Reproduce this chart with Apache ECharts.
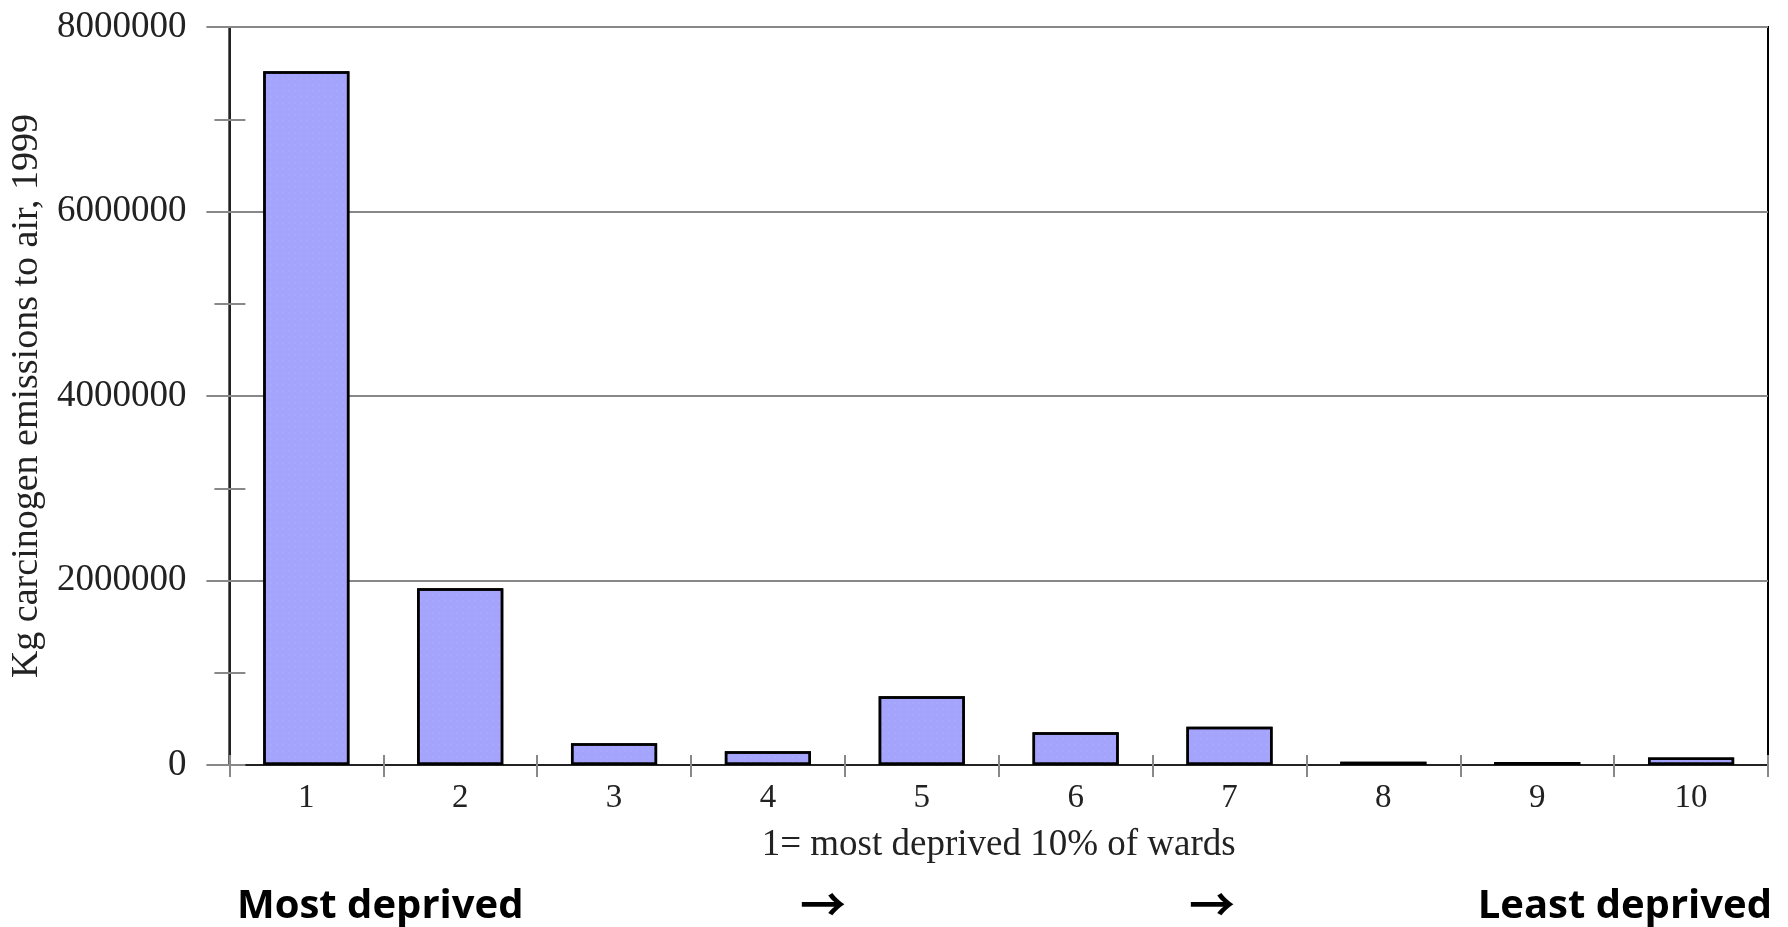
<!DOCTYPE html>
<html><head><meta charset="utf-8">
<script src="https://cdn.jsdelivr.net/npm/echarts@6/dist/echarts.min.js"></script>
<style>html,body{margin:0;padding:0;background:#fff;}#c{width:1788px;height:927px;}</style>
</head><body><div id="c"></div>
<script>
const categories = ['1','2','3','4','5','6','7','8','9','10'];
const emissions = [7520000, 1915000, 235000, 150000, 745000, 355000, 415000, 36000, 33000, 80000];
const yTicks = [0, 2000000, 4000000, 6000000, 8000000];
const yAxisTitle = 'Kg carcinogen emissions to air, 1999';
const xAxisTitle = '1= most deprived 10% of wards';
const bottomNotes = ['Most deprived', '\u2192', '\u2192', 'Least deprived'];

const serif = 'Liberation Serif, Times New Roman, serif';
const chart = echarts.init(document.getElementById('c'));
chart.setOption({
  animation: false,
  backgroundColor: '#fff',
  grid: { left: 226, right: 20, top: 27, bottom: 162, show: true, borderColor: '#000', borderWidth: 2, backgroundColor: 'transparent' },
  xAxis: [{
    type: 'category', data: categories, position: 'bottom',
    axisLine: { lineStyle: { color: '#222', width: 2 } },
    axisTick: { show: true, length: 12, lineStyle: { color: '#888', width: 2 } },
    axisLabel: { color: '#222', fontFamily: serif, fontSize: 33, margin: 17 },
    name: xAxisTitle, nameLocation: 'middle', nameGap: 62,
    nameTextStyle: { color: '#222', fontFamily: serif, fontSize: 37 }
  }, {
    type: 'category', data: categories, position: 'bottom',
    axisLine: { show: false },
    axisTick: { show: true, inside: true, length: 10, lineStyle: { color: '#888', width: 2 } },
    axisLabel: { show: false }
  }],
  yAxis: [{
    type: 'value', min: yTicks[0], max: yTicks[yTicks.length - 1], interval: yTicks[1] - yTicks[0], position: 'left',
    axisLine: { show: true, lineStyle: { color: '#222', width: 2 } },
    axisTick: { show: true, length: 23, lineStyle: { color: '#888', width: 2 } },
    minorTick: { show: true, splitNumber: 2, length: 15, lineStyle: { color: '#888', width: 2 } },
    splitLine: { show: true, lineStyle: { color: '#888', width: 2 } },
    axisLabel: { color: '#222', fontFamily: serif, fontSize: 37, margin: 43, formatter: v => String(v) },
    name: yAxisTitle, nameLocation: 'middle', nameRotate: 90, nameGap: 160,
    nameTextStyle: { color: '#222', fontFamily: serif, fontSize: 38 }
  }, {
    type: 'value', min: yTicks[0], max: yTicks[yTicks.length - 1], interval: (yTicks[1] - yTicks[0]) / 2, position: 'left',
    axisLine: { show: false },
    axisTick: { show: true, inside: true, length: 16, lineStyle: { color: '#888', width: 2 } },
    splitLine: { show: false },
    axisLabel: { show: false }
  }],
  series: [{
    type: 'bar', data: emissions, xAxisIndex: 0, yAxisIndex: 0,
    barCategoryGap: '44%',
    itemStyle: {
      color: '#a4a4fc', borderColor: '#000', borderWidth: 2.5,
      decal: { symbol: 'rect', symbolSize: 0.6, color: 'rgba(190,190,255,0.55)', dashArrayX: [2, 4], dashArrayY: [2, 4], rotation: 0 }
    }
  }],
  graphic: [
    { type: 'text', left: 237, top: 887, style: { text: bottomNotes[0], font: 'bold 40px "Open Sans", sans-serif', fill: '#000' } },
    { type: 'text', left: 800, top: 881, style: { text: bottomNotes[1], font: 'bold 46px "Noto Sans CJK SC", sans-serif', fill: '#000' } },
    { type: 'text', left: 1189, top: 881, style: { text: bottomNotes[2], font: 'bold 46px "Noto Sans CJK SC", sans-serif', fill: '#000' } },
    { type: 'text', right: 16, top: 887, style: { text: bottomNotes[3], font: 'bold 40px "Open Sans", sans-serif', fill: '#000' } }
  ]
});
</script></body></html>
